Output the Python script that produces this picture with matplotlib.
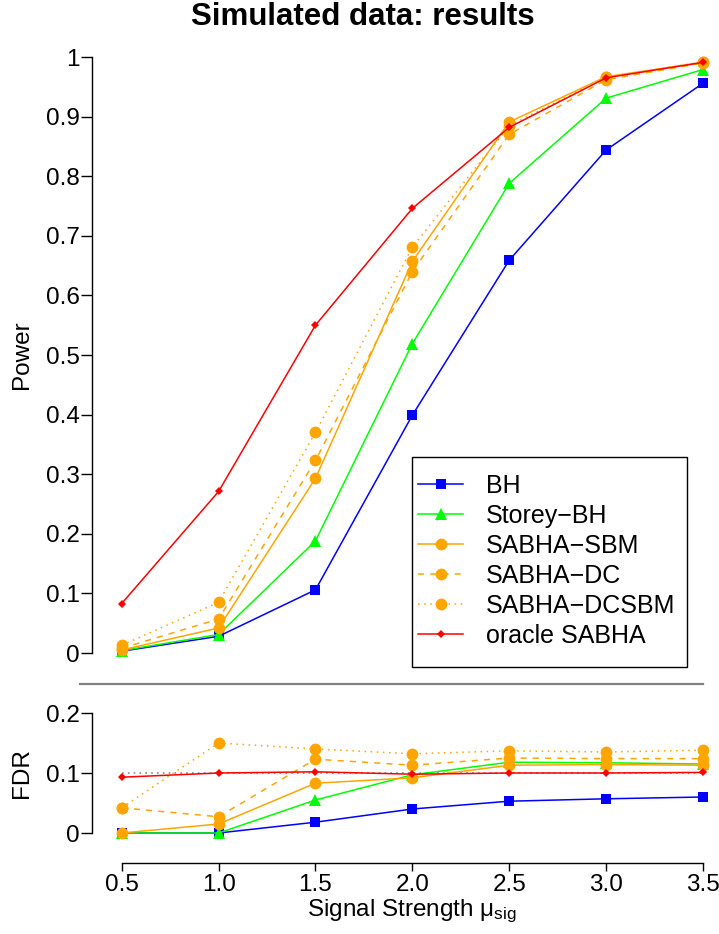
import matplotlib
matplotlib.use("Agg")
import matplotlib.pyplot as plt
from matplotlib.lines import Line2D
from matplotlib.patches import Rectangle

plt.rcParams["font.family"] = ["Liberation Sans", "DejaVu Sans"]
plt.rcParams["mathtext.fontset"] = "custom"
plt.rcParams["mathtext.rm"] = "Liberation Sans"
plt.rcParams["mathtext.it"] = "Liberation Sans:italic"

# Signal strengths
mu = [0.5, 1.0, 1.5, 2.0, 2.5, 3.0, 3.5]
q_level = 0.1

methods = ["BH", "Storey\u2212BH", "SABHA\u2212SBM", "SABHA\u2212DC",
           "SABHA\u2212DCSBM", "oracle SABHA"]

power_bh = [0.003, 0.028, 0.106, 0.399, 0.659, 0.844, 0.956]
power_storey = [0.004, 0.031, 0.188, 0.519, 0.788, 0.931, 0.979]
power_sbm = [0.005, 0.042, 0.293, 0.657, 0.891, 0.967, 0.991]
power_dc = [0.008, 0.057, 0.323, 0.640, 0.870, 0.962, 0.990]
power_dcsbm = [0.013, 0.085, 0.370, 0.681, 0.885, 0.966, 0.992]
power_oracle = [0.083, 0.271, 0.550, 0.746, 0.882, 0.965, 0.991]

fdr_bh = [0.0, 0.0, 0.018, 0.040, 0.053, 0.057, 0.060]
fdr_storey = [0.0, 0.0, 0.055, 0.097, 0.118, 0.117, 0.115]
fdr_sbm = [0.0, 0.015, 0.083, 0.092, 0.113, 0.114, 0.113]
fdr_dc = [0.042, 0.027, 0.123, 0.113, 0.125, 0.124, 0.124]
fdr_dcsbm = [0.042, 0.150, 0.140, 0.132, 0.137, 0.135, 0.138]
fdr_oracle = [0.093, 0.100, 0.102, 0.098, 0.100, 0.100, 0.101]

power = [power_bh, power_storey, power_sbm, power_dc, power_dcsbm, power_oracle]
fdr = [fdr_bh, fdr_storey, fdr_sbm, fdr_dc, fdr_dcsbm, fdr_oracle]

colors = ["#0000FF", "#00FF00", "#FFA500", "#FFA500", "#FFA500", "#FF0000"]
markers = ["s", "^", "o", "o", "o", "D"]
msizes = [7.5, 8.5, 8.5, 8.5, 8.5, 4.5]
lstyles = ["-", "-", "-", (0, (4, 4)), (0, (1, 3)), "-"]

W, H = 719, 934
fig = plt.figure(figsize=(W / 100, H / 100), dpi=100)


def fx(px):
    return px / W


def fy(py):
    return 1 - py / H


FS = 17.5
LFS = 18

# pixel frames of the two panels
x_left, x_right = 92, 719
x0_px, x1_px = 121.7, 703.0
ppu_x = (x1_px - x0_px) / 3.0
xlim = (0.5 - (x0_px - x_left) / ppu_x, 3.5 + (x_right - x1_px) / ppu_x)

# Power panel
top_t, top_b = 40, 670
ppu_p = 596.0
ax1 = fig.add_axes([fx(x_left), fy(top_b), fx(x_right - x_left), (top_b - top_t) / H])
ax1.set_xlim(*xlim)
ax1.set_ylim(-(top_b - 653) / ppu_p, 1 + (57 - top_t) / ppu_p)

# FDR panel
bot_t, bot_b = 700, 863
ppu_f = 600.0
ax2 = fig.add_axes([fx(x_left), fy(bot_b), fx(x_right - x_left), (bot_b - bot_t) / H])
ax2.set_xlim(*xlim)
ax2.set_ylim(-(bot_b - 833) / ppu_f, 0.2 + (713 - bot_t) / ppu_f)

for ax in (ax1, ax2):
    ax.patch.set_alpha(0)
    for s in ("top", "right"):
        ax.spines[s].set_visible(False)
    ax.spines["left"].set_linewidth(1.0)
    ax.tick_params(axis="y", direction="out", length=8, width=1.0, pad=1,
                   labelsize=FS)

ax1.spines["bottom"].set_visible(False)
ax1.set_xticks([])
ax1.spines["left"].set_bounds(0, 1)
ax1.set_yticks([0, 0.1, 0.2, 0.3, 0.4, 0.5, 0.6, 0.7, 0.8, 0.9, 1.0])
ax1.set_yticklabels(["0", "0.1", "0.2", "0.3", "0.4", "0.5", "0.6", "0.7",
                     "0.8", "0.9", "1"])

ax2.spines["left"].set_bounds(0, 0.2)
ax2.spines["bottom"].set_bounds(0.5, 3.5)
ax2.spines["bottom"].set_linewidth(1.0)
ax2.set_yticks([0, 0.1, 0.2])
ax2.set_yticklabels(["0", "0.1", "0.2"])
ax2.set_xticks(mu)
ax2.set_xticklabels([f"{v:.1f}" for v in mu])
ax2.tick_params(axis="x", direction="out", length=6, width=1.0, pad=2,
                labelsize=FS)

# target FDR level
ax2.plot([mu[0], mu[-1]], [q_level, q_level], color="#888888", lw=1.2,
         ls=(0, (1, 2.5)), zorder=1)

for i in range(len(methods)):
    kw = dict(color=colors[i], marker=markers[i], markersize=msizes[i],
              lw=1.1, ls=lstyles[i], clip_on=False, zorder=2 + i,
              markeredgewidth=0)
    ax1.plot(mu, power[i], **kw)
    ax2.plot(mu, fdr[i], **kw)

# labels
fig.text(fx(22), fy(355), "Power", rotation=90, ha="center", va="center",
         fontsize=FS)
fig.text(fx(22), fy(773), "FDR", rotation=90, ha="center", va="center",
         fontsize=FS)
fig.text(fx(412), fy(916), "Signal Strength \u03bc$_{\\mathrm{sig}}$",
         ha="center", va="baseline", fontsize=FS)
fig.text(fx(363), fy(25), "Simulated data: results", ha="center",
         va="baseline", fontsize=22.5, fontweight="bold")

# separator between panels
fig.add_artist(Line2D([fx(80), fx(703)], [fy(684), fy(684)], color="#808080",
                      lw=1.6))

# legend
handles = [Line2D([], [], color=colors[i], marker=markers[i],
                  markersize=msizes[i], lw=1.1, ls=lstyles[i],
                  markeredgewidth=0) for i in range(len(methods))]
leg = fig.legend(handles, methods, loc="upper left",
                 bbox_to_anchor=(fx(418), fy(474)), frameon=False,
                 fontsize=LFS, handlelength=1.8, handletextpad=0.92,
                 labelspacing=0.24, borderpad=0.0, borderaxespad=0.0)
fig.add_artist(Rectangle((fx(412), fy(667)), fx(687 - 412), (667 - 457) / H,
                         transform=fig.transFigure, fill=False,
                         edgecolor="black", lw=1.0))

fig.savefig("out.png", dpi=100)
